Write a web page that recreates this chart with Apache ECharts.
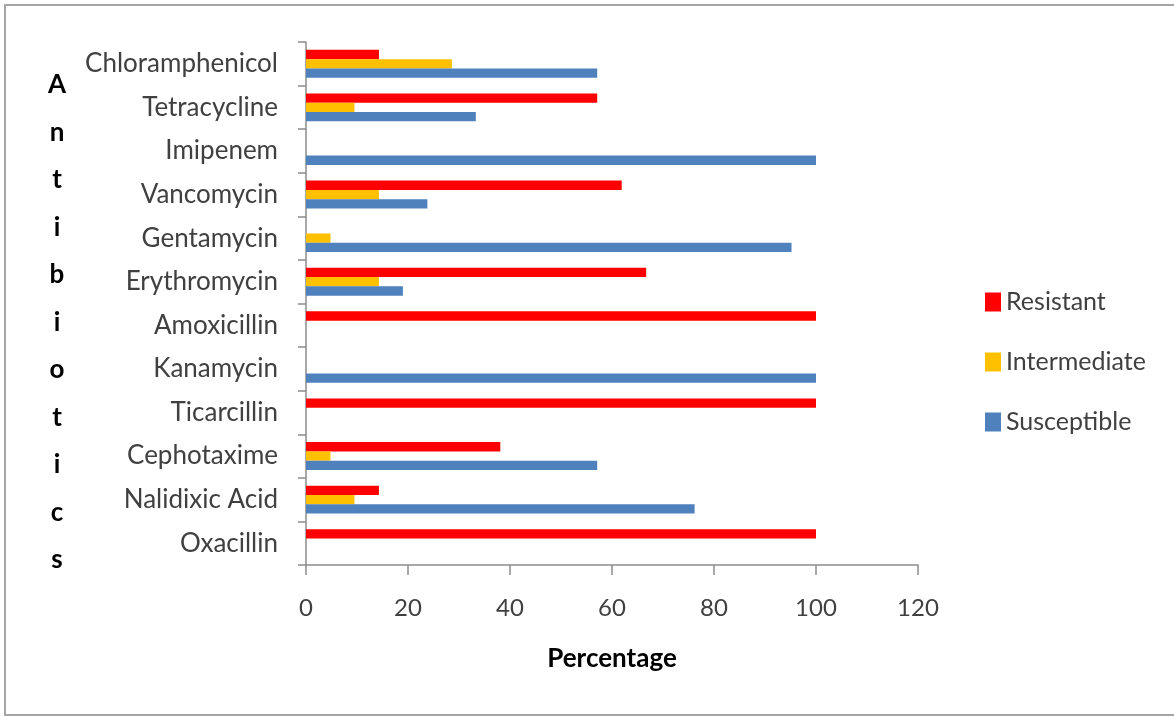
<!DOCTYPE html>
<html>
<head>
<meta charset="utf-8">
<title>Antibiotic susceptibility</title>
<script src="https://cdn.jsdelivr.net/npm/echarts@6/dist/echarts.min.js"></script>
<style>
  html, body { margin: 0; padding: 0; background: #ffffff; }
  #chart { width: 1174px; height: 716px; }
</style>
</head>
<body>
<div id="chart"></div>
<script>
// Antibiotics, listed top to bottom
const antibiotics = ['Chloramphenicol', 'Tetracycline', 'Imipenem', 'Vancomycin', 'Gentamycin',
  'Erythromycin', 'Amoxicillin', 'Kanamycin', 'Ticarcillin', 'Cephotaxime', 'Nalidixic Acid', 'Oxacillin'];

// Percentage of isolates per outcome
const resistant    = [14.3, 57.1, 0, 61.9, 0, 66.7, 100, 0, 100, 38.1, 14.3, 100];
const intermediate = [28.6, 9.5, 0, 14.3, 4.8, 14.3, 0, 0, 0, 4.8, 9.5, 0];
const susceptible  = [57.1, 33.3, 100, 23.8, 95.2, 19.0, 0, 100, 0, 57.1, 76.2, 0];

const seriesNames = ['Resistant', 'Intermediate', 'Susceptible'];
const seriesColors = ['#FF0000', '#FFC000', '#4F81BD'];

// Percentage axis ticks
const xMin = 0, xMax = 120, xStep = 20;

const FONT = 'Lato, "Open Sans", sans-serif';
const TEXT = '#404040';
const AXIS = '#8c8c8c';

const chart = echarts.init(document.getElementById('chart'), null, { renderer: 'canvas' });

const values = [resistant, intermediate, susceptible];

chart.setOption({
  backgroundColor: '#ffffff',
  animation: false,
  grid: { left: 306, top: 42, width: 612, height: 523, containLabel: false },
  xAxis: {
    type: 'value',
    min: xMin, max: xMax, interval: xStep,
    axisLine: { show: true, lineStyle: { color: AXIS, width: 1.5 } },
    axisTick: { show: true, length: 10, lineStyle: { color: AXIS, width: 1.5 } },
    splitLine: { show: false },
    axisLabel: { fontFamily: FONT, fontSize: 24, color: TEXT, margin: 31 }
  },
  yAxis: {
    type: 'category',
    inverse: true,
    data: antibiotics,
    axisLine: { show: true, lineStyle: { color: AXIS, width: 1.5 } },
    axisTick: { show: true, length: 8, alignWithLabel: false, lineStyle: { color: AXIS, width: 1.5 } },
    splitLine: { show: false },
    axisLabel: { fontFamily: FONT, fontSize: 26, color: TEXT, margin: 28 }
  },
  legend: {
    orient: 'vertical',
    left: 980,
    top: 282,
    itemWidth: 16,
    itemHeight: 19,
    itemGap: 30,
    icon: 'rect',
    data: seriesNames,
    textStyle: { fontFamily: FONT, fontSize: 25, color: TEXT, lineHeight: 30 }
  },
  series: seriesNames.map((name, i) => ({
    name: name,
    type: 'bar',
    data: values[i],
    barGap: '0%',
    barCategoryGap: '36%',
    itemStyle: { color: seriesColors[i] }
  })),
  graphic: [
    {
      type: 'rect',
      silent: true,
      shape: { x: 5, y: 5, width: 1180, height: 710 },
      style: { fill: 'none', stroke: '#a6a6a6', lineWidth: 2 }
    },
    {
      type: 'text',
      silent: true,
      x: 612, y: 659,
      style: {
        text: 'Percentage',
        fontFamily: FONT, fontSize: 26, fontWeight: 'bold', fill: '#000000',
        align: 'center', verticalAlign: 'middle'
      }
    },
    {
      type: 'text',
      silent: true,
      x: 57, y: 322.5,
      style: {
        text: 'Antibiotics'.split('').join('\n'),
        fontFamily: FONT, fontSize: 26, fontWeight: 'bold', fill: '#000000',
        lineHeight: 47.5,
        align: 'center', verticalAlign: 'middle'
      }
    }
  ]
});
</script>
</body>
</html>
